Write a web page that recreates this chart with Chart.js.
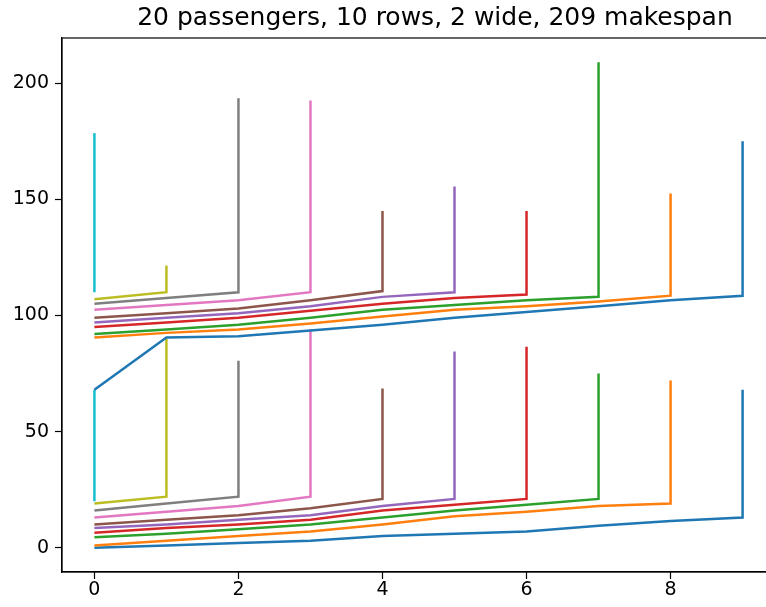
<!DOCTYPE html>
<html>
<head>
<meta charset="utf-8">
<script src="https://cdn.jsdelivr.net/npm/chart.js@4.4.1/dist/chart.umd.min.js"></script>
<style>
  html, body { margin: 0; padding: 0; background: #fff; overflow: hidden; }
  #wrap { width: 870px; height: 607px; }
</style>
</head>
<body>
<div id="wrap"><canvas id="c" width="870" height="607"></canvas></div>
<script>
// ---- data ----
const chartTitle = '20 passengers, 10 rows, 2 wide, 209 makespan';
const xTicks = [0, 2, 4, 6, 8];
const yTicks = [0, 50, 100, 150, 200];
const passengerRows = [9, 8, 7, 6, 5, 4, 3, 2, 1, 0, 9, 8, 7, 6, 5, 4, 3, 2, 1, 0];
// time at which each passenger reaches row 0,1,2,... up to its own row
const walkTimes = [
  [0, 1, 2, 3, 5, 6, 7, 9.5, 11.5, 13],
  [1, 3, 5, 7, 10, 13.5, 15.5, 18, 19],
  [4.5, 6, 8, 10, 13, 16, 18.5, 21],
  [6.5, 8.5, 10, 12, 16, 18.5, 21],
  [8.5, 10, 12, 14, 18, 21],
  [10, 12, 14, 17, 21],
  [13, 15.5, 18, 22],
  [16, 19, 22],
  [19, 22],
  [20],
  [68, 90.5, 91, 93.5, 96, 99, 101.5, 104, 106.5, 108.5],
  [90.5, 92.5, 94, 96.5, 99.5, 102.5, 104, 106, 108.5],
  [92, 94, 96, 99, 102.5, 104.5, 106.5, 108],
  [95, 97, 99, 102, 105, 107.5, 109],
  [97, 99, 101, 104, 108, 110],
  [99, 101, 103, 106.5, 110.5],
  [102.5, 104.5, 106.5, 110],
  [105, 107.5, 110],
  [107, 110],
  [110]
];
// time at which each passenger finishes stowing at its row
const stowDone = [68, 72, 75, 86.5, 84.5, 68.5, 94, 80.5, 90, 68,
                  175, 152.5, 209, 145, 155.5, 145, 192.5, 193.5, 121.5, 178.5];
const palette = ['#1f77b4', '#ff7f0e', '#2ca02c', '#d62728', '#9467bd',
                 '#8c564b', '#e377c2', '#7f7f7f', '#bcbd22', '#17becf'];

// ---- build datasets ----
const datasets = walkTimes.map((times, i) => {
  const pts = times.map((t, r) => ({ x: r, y: t }));
  pts.push({ x: passengerRows[i], y: stowDone[i] });
  return {
    data: pts,
    borderColor: palette[i % palette.length],
    backgroundColor: palette[i % palette.length],
    borderWidth: 2.5,
    pointRadius: 0,
    tension: 0,
    fill: false,
    borderJoinStyle: 'miter',
    borderCapStyle: 'butt',
    order: -i
  };
});

const tickFont = { family: 'DejaVu Sans', size: 19 };

const frame = {
  id: 'frame',
  afterDraw(chart) {
    const a = chart.chartArea, ctx = chart.ctx;
    ctx.save();
    ctx.strokeStyle = '#000';
    ctx.lineWidth = 1.2;
    ctx.strokeRect(a.left, a.top, a.right - a.left, a.bottom - a.top);
    ctx.restore();
  }
};

new Chart(document.getElementById('c'), {
  type: 'line',
  data: { datasets },
  options: {
    responsive: false,
    animation: false,
    devicePixelRatio: 1,
    layout: { padding: 0 },
    plugins: {
      legend: { display: false },
      tooltip: { enabled: false },
      title: {
        display: true,
        text: chartTitle,
        fullSize: true,
        color: '#000',
        font: { family: 'DejaVu Sans', size: 25, weight: 'normal' },
        padding: { top: 3, bottom: 5 }
      }
    },
    scales: {
      x: {
        type: 'linear',
        min: -0.45,
        max: 9.45,
        afterBuildTicks: s => { s.ticks = xTicks.map(v => ({ value: v })); },
        afterFit: s => { s.height = 35; },
        grid: { drawOnChartArea: false, drawTicks: true, tickLength: 7, color: '#000', tickWidth: 1.2 },
        border: { display: true, color: '#000', width: 1.2 },
        ticks: { font: tickFont, color: '#000', padding: 0, maxRotation: 0, autoSkip: false }
      },
      y: {
        type: 'linear',
        min: -10.45,
        max: 219.45,
        afterBuildTicks: s => { s.ticks = yTicks.map(v => ({ value: v })); },
        afterFit: s => { s.width = 62; },
        grid: { drawOnChartArea: false, drawTicks: true, tickLength: 7, color: '#000', tickWidth: 1.2 },
        border: { display: true, color: '#000', width: 1.2 },
        ticks: { font: tickFont, color: '#000', padding: 6, autoSkip: false }
      },
      yRightSpacer: {
        type: 'linear',
        position: 'right',
        display: true,
        min: 0,
        max: 1,
        afterFit: s => { s.width = 95; },
        grid: { display: false, drawTicks: false },
        border: { display: false },
        ticks: { display: false }
      }
    }
  },
  plugins: [frame]
});
</script>
</body>
</html>
